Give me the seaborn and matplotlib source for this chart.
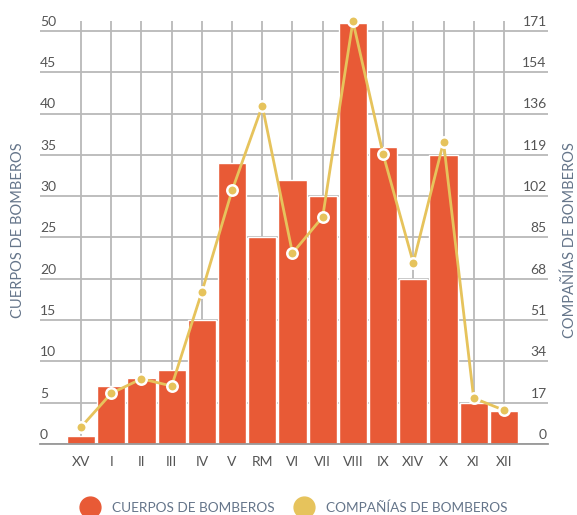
import numpy as np
import pandas as pd
import seaborn as sns
import matplotlib.pyplot as plt
from matplotlib.lines import Line2D
from matplotlib import transforms

sns.set_style("white")
plt.rcParams["font.family"] = ["Lato", "DejaVu Sans"]

# data
regions = ["XV", "I", "II", "III", "IV", "V", "RM", "VI", "VII", "VIII",
           "IX", "XIV", "X", "XI", "XII"]
cuerpos = [1, 7, 8, 9, 15, 34, 25, 32, 30, 51, 36, 20, 35, 5, 4]
companias = [7, 21, 27, 24, 63, 105, 140, 79, 94, 175, 120, 75, 125, 19, 14]
left_ticks = [0, 5, 10, 15, 20, 25, 30, 35, 40, 45, 50]
right_ticks = ["0", "17", "34", "51", "68", "85", "102", "119", "136", "154", "171"]

BAR = "#E85A36"
GOLD = "#E6C35C"
GRID = "#b9b9b9"
TXT = "#555555"
LAB = "#65758a"

df = pd.DataFrame({"region": regions, "cuerpos": cuerpos, "companias": companias})

fig = plt.figure(figsize=(5.77, 5.15), dpi=100)
ax = fig.add_axes([40 / 577, 71 / 515, 508 / 577, 423 / 515])

sns.barplot(data=df, x="region", y="cuerpos", order=regions, color=BAR,
            saturation=1, width=0.93, edgecolor="white", linewidth=1,
            ax=ax, zorder=2)

ymax = 51.2
scale = 171 / 50
ax.set_ylim(0, ymax)
ax.set_yticks(left_ticks)
ax.set_axisbelow(True)

ax2 = ax.twinx()
sns.pointplot(data=df, x="region", y="companias", order=regions, color=GOLD,
              markers="o", markersize=7.5, linewidth=2,
              markeredgecolor="white", markeredgewidth=1.8, ax=ax2)
for ln in ax2.lines:
    ln.set_clip_on(False)
ax2.set_ylim(0, ymax * scale)
ax2.set_yticks(np.linspace(0, 171, 11))

ax.set_xlim(-1.36, 15.46)
ax.grid(True, color=GRID, linewidth=1.3)
ax.xaxis.grid(True)
ax2.grid(False)

for a in (ax, ax2):
    for s in a.spines.values():
        s.set_visible(False)
    a.set_xlabel("")
    a.set_ylabel("")
    a.tick_params(axis="y", length=0, labelleft=False, labelright=False)
ax.spines["bottom"].set_visible(True)
ax.spines["bottom"].set_color("#999999")
ax.spines["bottom"].set_linewidth(1.3)
ax.tick_params(axis="x", length=0, pad=9, labelsize=10, labelcolor=TXT)

# tick labels sit above their grid lines, inside the plot area
tl = transforms.blended_transform_factory(ax.transAxes, ax.transData)
for v in left_ticks:
    ax.annotate(str(v), (0, v), xycoords=tl, xytext=(0, 2.2),
                textcoords="offset points", ha="left", va="bottom",
                fontsize=10, color=TXT)
tr = transforms.blended_transform_factory(ax2.transAxes, ax2.transData)
for v, lab in zip(np.linspace(0, 171, 11), right_ticks):
    ax2.annotate(lab, (1, v), xycoords=tr, xytext=(-1, 2.2),
                 textcoords="offset points", ha="right", va="bottom",
                 fontsize=10, color=TXT)

fig.text(18 / 577, 1 - 230 / 515, "CUERPOS DE BOMBEROS", rotation=90,
         ha="center", va="center", fontsize=10.5, color=LAB)
fig.text(570 / 577, 1 - 240 / 515, "COMPAÑÍAS DE BOMBEROS", rotation=90,
         ha="center", va="center", fontsize=10.5, color=LAB)

handles = [Line2D([], [], marker="o", linestyle="", markersize=15, color=BAR),
           Line2D([], [], marker="o", linestyle="", markersize=15, color=GOLD)]
fig.legend(handles, ["CUERPOS DE BOMBEROS", "COMPAÑÍAS DE BOMBEROS"],
           loc="center", bbox_to_anchor=(292 / 577, 1 - 508 / 515), ncol=2,
           frameon=False, fontsize=9.8, labelcolor=LAB, handletextpad=0.6,
           columnspacing=1.2)

fig.savefig("out.png", dpi=100)
